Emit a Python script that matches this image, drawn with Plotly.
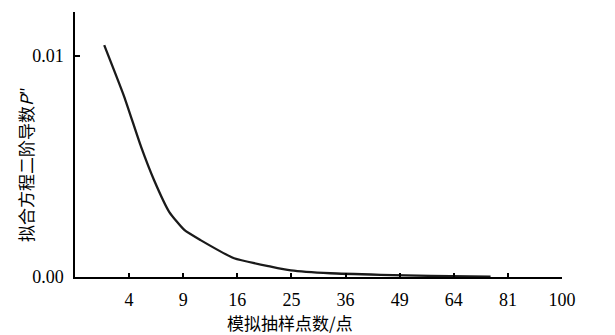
import plotly.graph_objects as go

# sampling points (x axis is sqrt-scaled: value s = sqrt(N))
s_vals = [1.54, 1.91, 2.22, 2.46, 2.74, 3.02, 3.32, 3.94, 4.62, 4.99, 5.72, 6.65, 7.57, 8.68]
p2_vals = [0.01050, 0.00816, 0.00590, 0.00439, 0.00295, 0.00213, 0.00167, 0.00085,
           0.00047, 0.00030, 0.00017, 0.00010, 0.00005, 0.00002]
x_tick_pos = [2, 3, 4, 5, 6, 7, 8, 9, 10]
x_tick_text = ["4", "9", "16", "25", "36", "49", "64", "81", "100"]
y_tick_vals = [0, 0.01]
y_tick_text = ["0.00", "0.01"]

serif = "Liberation Serif"
cjk = "Noto Sans CJK SC"

fig = go.Figure()
fig.add_trace(go.Scatter(x=s_vals, y=p2_vals, mode="lines",
                         line=dict(color="#1a1a1a", width=2.3, shape="spline", smoothing=0.5),
                         showlegend=False, hoverinfo="skip"))

fig.update_layout(
    width=615, height=335,
    margin=dict(l=75, r=53, t=12, b=58, autoexpand=False),
    paper_bgcolor="white", plot_bgcolor="white",
    font=dict(family=serif, size=18, color="black"),
    xaxis=dict(range=[1, 10], showgrid=False, zeroline=False, automargin=False,
               showline=True, linecolor="black", linewidth=1.5,
               ticks="inside", ticklen=4, tickwidth=1.5, tickcolor="black",
               tickvals=x_tick_pos, ticktext=x_tick_text,
               tickfont=dict(family=serif, size=18), ticklabelstandoff=6),
    yaxis=dict(range=[0, 0.012], showgrid=False, zeroline=False, automargin=False,
               showline=True, linecolor="black", linewidth=1.5,
               ticks="inside", ticklen=5, tickwidth=1.5, tickcolor="black",
               tickvals=y_tick_vals, ticktext=y_tick_text,
               tickfont=dict(family=serif, size=18), ticklabelstandoff=6),
    annotations=[
        dict(text="模拟抽样点数/点", xref="paper", yref="paper",
             x=(290 - 75) / (562 - 75), y=-(322 - 277) / (277 - 12),
             xanchor="center", yanchor="middle", showarrow=False,
             font=dict(family=cjk, size=17)),
        dict(text="拟合方程二阶导数<i>P</i>″", xref="paper", yref="paper",
             x=-(75 - 25) / (562 - 75), y=(277 - 165) / (277 - 12),
             xanchor="center", yanchor="middle", showarrow=False, textangle=-90,
             font=dict(family=cjk, size=17)),
    ],
)

fig.write_html("out.html", config={"displayModeBar": False},
               post_script="document.body.style.margin='0';document.body.style.padding='0';")
